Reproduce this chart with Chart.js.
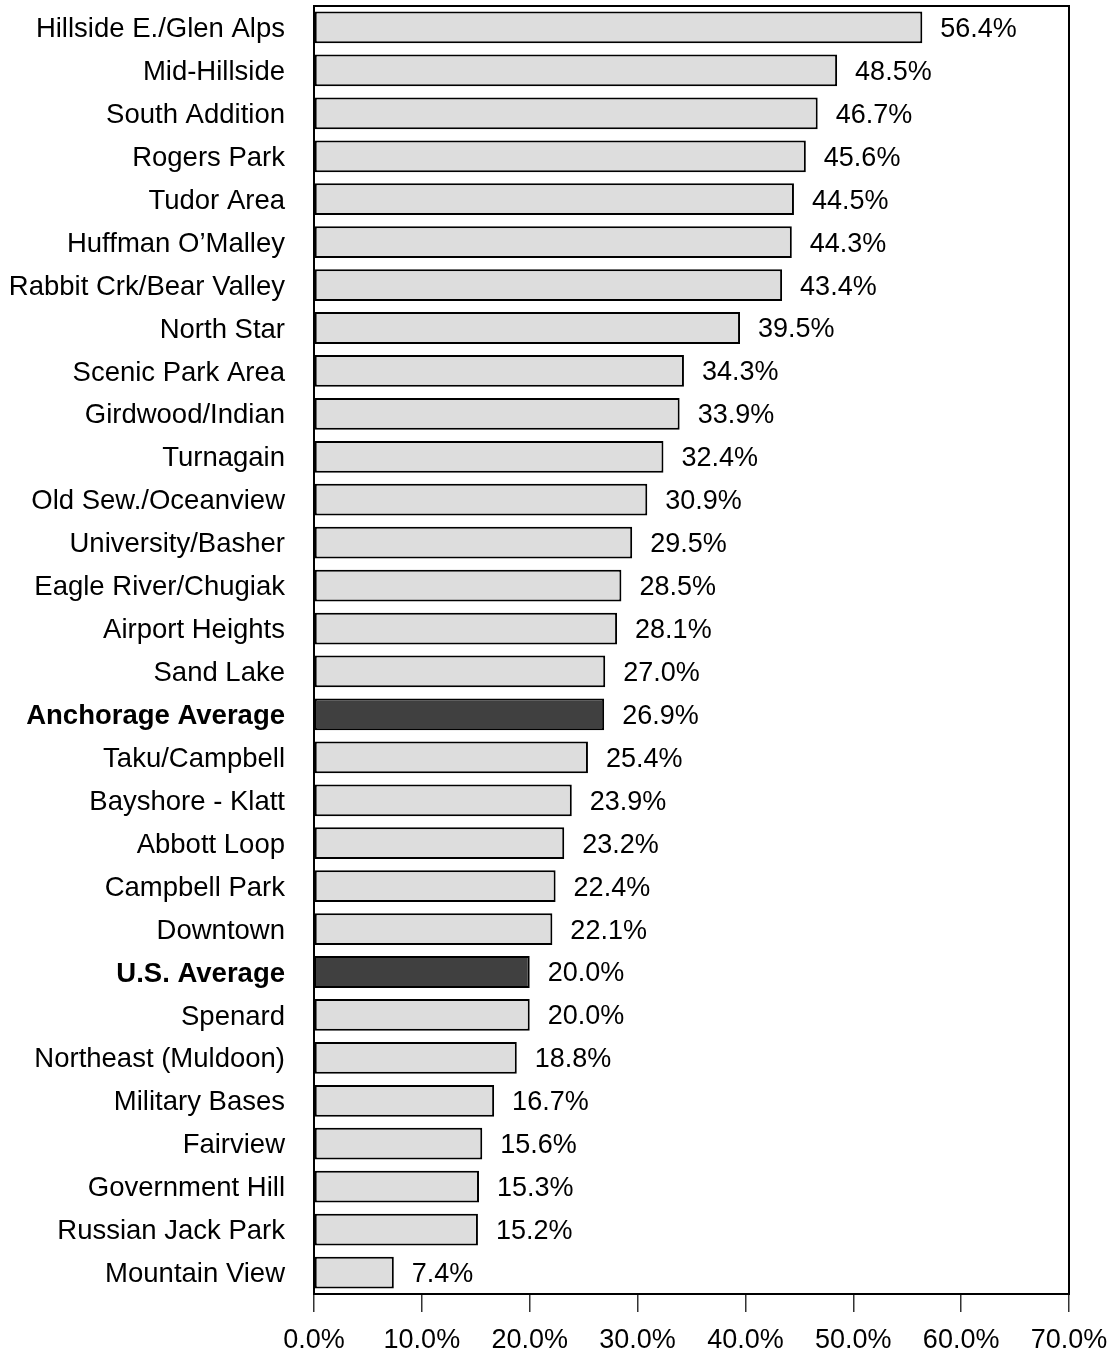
<!DOCTYPE html>
<html>
<head>
<meta charset="utf-8">
<script src="https://cdn.jsdelivr.net/npm/chart.js@4"></script>
<style>
  html, body { margin: 0; padding: 0; background: #fff; }
  #wrap { width: 1113px; height: 1356px; position: relative; }
</style>
</head>
<body>
<div id="wrap"><canvas id="grafik"></canvas></div>
<script>
// data
const kategori = [
    "Hillside E./Glen Alps", "Mid-Hillside", "South Addition", "Rogers Park",
    "Tudor Area", "Huffman O\u2019Malley", "Rabbit Crk/Bear Valley", "North Star",
    "Scenic Park Area", "Girdwood/Indian", "Turnagain", "Old Sew./Oceanview",
    "University/Basher", "Eagle River/Chugiak", "Airport Heights", "Sand Lake",
    "Anchorage Average", "Taku/Campbell", "Bayshore - Klatt", "Abbott Loop",
    "Campbell Park", "Downtown", "U.S. Average", "Spenard",
    "Northeast (Muldoon)", "Military Bases", "Fairview", "Government Hill",
    "Russian Jack Park", "Mountain View",
];
const nilai = [
    56.4, 48.5, 46.7, 45.6, 44.5, 44.3, 43.4, 39.5, 34.3, 33.9,
    32.4, 30.9, 29.5, 28.5, 28.1, 27.0, 26.9, 25.4, 23.9, 23.2,
    22.4, 22.1, 20.0, 20.0, 18.8, 16.7, 15.6, 15.3, 15.2, 7.4,
];
const rataRata = ["Anchorage Average", "U.S. Average"];
const tickX = [0, 10, 20, 30, 40, 50, 60, 70];

const FONT = "'Liberation Sans', Arial, sans-serif";

const labelNilai = {
    id: "labelNilai",
    afterDatasetsDraw(chart) {
        const ctx = chart.ctx;
        const meta = chart.getDatasetMeta(0);
        ctx.save();
        ctx.font = "27px " + FONT;
        ctx.fillStyle = "#000";
        ctx.textAlign = "left";
        ctx.textBaseline = "middle";
        meta.data.forEach((bar, i) => {
            ctx.fillText(nilai[i].toFixed(1) + "%", bar.x + 18, bar.y + 2);
        });
        ctx.restore();
    },
};

const bingkai = {
    id: "bingkai",
    afterDraw(chart) {
        const a = chart.chartArea;
        const ctx = chart.ctx;
        ctx.save();
        ctx.strokeStyle = "#000";
        ctx.lineWidth = 2;
        ctx.strokeRect(a.left, a.top, a.right - a.left, a.bottom - a.top);
        ctx.restore();
    },
};

new Chart(document.getElementById("grafik"), {
    type: "bar",
    data: {
        labels: kategori,
        datasets: [
            {
                data: nilai,
                backgroundColor: kategori.map((k) => (rataRata.includes(k) ? "#404040" : "#dddddd")),
                borderColor: "#000",
                borderWidth: 2,
                borderSkipped: false,
                barPercentage: 0.74,
                categoryPercentage: 1,
            },
        ],
    },
    options: {
        indexAxis: "y",
        responsive: true,
        maintainAspectRatio: false,
        animation: false,
        layout: { padding: { top: 6, right: 44, left: 0, bottom: 0 } },
        plugins: { legend: { display: false }, tooltip: { enabled: false } },
        scales: {
            x: {
                min: 0,
                max: 70,
                afterBuildTicks: (scale) => {
                    scale.ticks = tickX.map((v) => ({ value: v }));
                },
                afterFit: (scale) => {
                    scale.height = 62;
                    scale.paddingLeft = 0;
                    scale.paddingRight = 0;
                },
                grid: {
                    drawOnChartArea: false,
                    drawTicks: true,
                    tickLength: 18,
                    color: "#333",
                    lineWidth: 1.5,
                },
                border: { display: false },
                ticks: {
                    padding: 12,
                    color: "#000",
                    font: { family: FONT, size: 27 },
                    maxRotation: 0,
                    callback: (v) => Number(v).toFixed(1) + "%",
                },
            },
            y: {
                afterFit: (scale) => {
                    scale.width = 314;
                    scale.paddingTop = 0;
                    scale.paddingBottom = 0;
                },
                grid: { display: false, drawTicks: false },
                border: { display: false },
                ticks: {
                    padding: 29,
                    labelOffset: 2,
                    color: "#000",
                    autoSkip: false,
                    font: (c) => ({
                        family: FONT,
                        size: 27.5,
                        weight: rataRata.includes(kategori[c.index]) ? "bold" : "normal",
                    }),
                },
            },
        },
    },
    plugins: [labelNilai, bingkai],
});
</script>
</body>
</html>
